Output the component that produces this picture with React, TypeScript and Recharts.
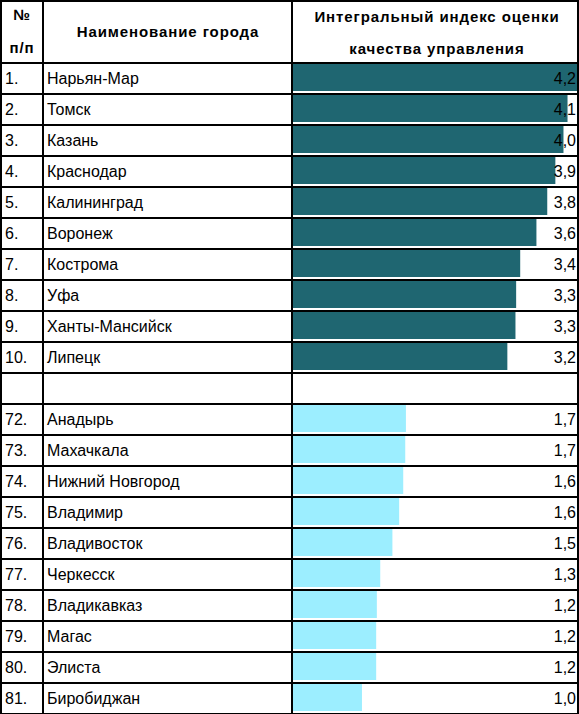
import { BarChart, Bar, XAxis, YAxis, Cell, LabelList } from 'recharts';

const ranks = ['1.', '2.', '3.', '4.', '5.', '6.', '7.', '8.', '9.', '10.', '', '72.', '73.', '74.', '75.', '76.', '77.', '78.', '79.', '80.', '81.'];
const cities = [
  'Нарьян-Мар', 'Томск', 'Казань', 'Краснодар', 'Калининград', 'Воронеж', 'Кострома', 'Уфа', 'Ханты-Мансийск', 'Липецк',
  '',
  'Анадырь', 'Махачкала', 'Нижний Новгород', 'Владимир', 'Владивосток', 'Черкесск', 'Владикавказ', 'Магас', 'Элиста', 'Биробиджан',
];
// integral index, bar lengths
const scores = [4.2, 4.06, 4.0, 3.88, 3.76, 3.6, 3.36, 3.3, 3.29, 3.17, null, 1.67, 1.66, 1.63, 1.57, 1.47, 1.29, 1.24, 1.23, 1.23, 1.02];

const W = 579;
const H = 714;
const FONT = '"Liberation Sans", Arial, sans-serif';
const DARK = '#1f6671';
const LIGHT = '#9ceeff';
const LINE = 2;
const FS = 16;

const rows = ranks.map((r, i) => ({
  id: String(i),
  rank: r,
  city: cities[i],
  score: scores[i],
  label: scores[i] == null ? '' : scores[i]!.toFixed(1).replace('.', ','),
  top: i < 10,
}));

const RowTick = ({ y, payload }: any) => {
  const row = rows[Number(payload.value)];
  const half = 15.5;
  const top = y - half;
  const bottom = y + half;
  return (
    <g>
      {payload.value === '0' && <line x1={0} x2={W} y1={top + 1} y2={top + 1} stroke="#000" strokeWidth={LINE} />}
      <line x1={0} x2={W} y1={bottom + 1} y2={bottom + 1} stroke="#000" strokeWidth={LINE} />
      {[1, 43, 292, 578].map((vx) => (
        <line key={vx} x1={vx} x2={vx} y1={top} y2={bottom + 2} stroke="#000" strokeWidth={LINE} />
      ))}
      <text x={5} y={y + 6.5} fontSize={FS} fontFamily={FONT} fill="#000">{row.rank}</text>
      <text x={47} y={y + 6.5} fontSize={FS} fontFamily={FONT} fill="#000">{row.city}</text>
    </g>
  );
};

const ValueLabel = ({ y, height, value }: any) => {
  if (!value) return null;
  return (
    <text x={576} y={y + height / 2 + 6.5} textAnchor="end" fontSize={FS} fontFamily={FONT} fill="#000">
      {value}
    </text>
  );
};

const Header = () => {
  const t = { fontSize: 15, fontFamily: FONT, fontWeight: 700, letterSpacing: 0.9, fill: '#000', textAnchor: 'middle' as const };
  return (
    <svg width={W} height={63} style={{ position: 'absolute', left: 0, top: 0 }}>
      <line x1={0} x2={W} y1={1} y2={1} stroke="#000" strokeWidth={LINE} />
      {[1, 43, 292, 578].map((vx) => (
        <line key={vx} x1={vx} x2={vx} y1={0} y2={63} stroke="#000" strokeWidth={LINE} />
      ))}
      <text x={22} y={20} {...t}>№</text>
      <text x={22} y={53} {...t}>п/п</text>
      <text x={168} y={37} {...t}>Наименование города</text>
      <text x={437} y={22} {...t}>Интегральный индекс оценки</text>
      <text x={437} y={54} {...t}>качества управления</text>
    </svg>
  );
};

export default function App() {
  return (
    <div style={{ position: 'absolute', left: 0, top: 0, width: W, height: H, background: '#fff' }}>
      <BarChart
        width={W}
        height={H}
        data={rows}
        layout="vertical"
        margin={{ top: 62, right: 2, bottom: 1, left: 0 }}
        barCategoryGap={2}
      >
        <XAxis type="number" domain={[0, 4.2]} hide />
        <YAxis
          type="category"
          dataKey="id"
          width={293}
          axisLine={false}
          tickLine={false}
          interval={0}
          tick={<RowTick />}
        />
        <Bar dataKey="score" isAnimationActive={false}>
          {rows.map((r) => (
            <Cell key={r.id} fill={r.top ? DARK : LIGHT} />
          ))}
          <LabelList dataKey="label" content={<ValueLabel />} />
        </Bar>
      </BarChart>
      <Header />
    </div>
  );
}
